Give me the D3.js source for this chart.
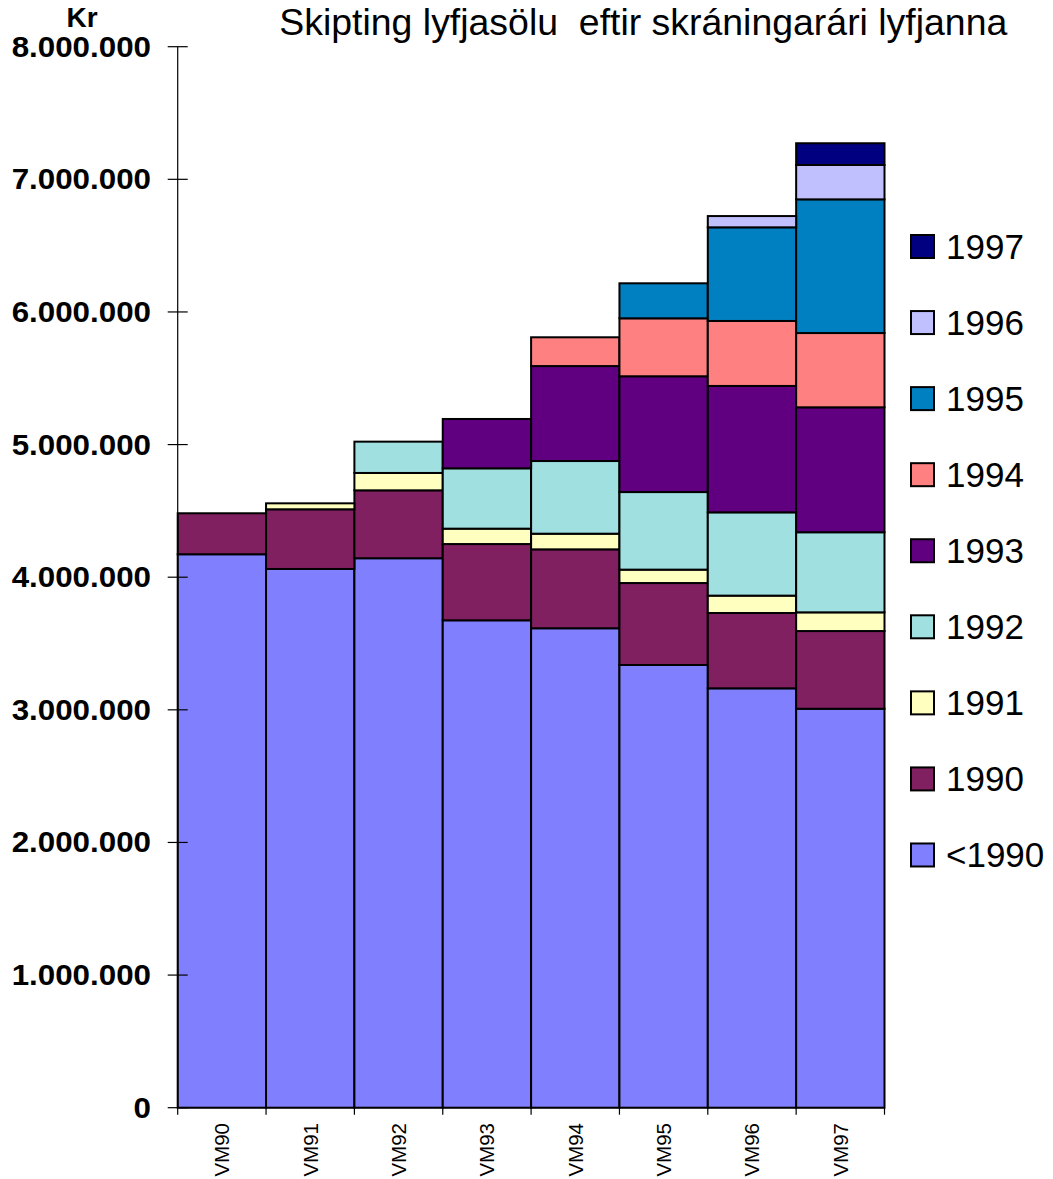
<!DOCTYPE html>
<html>
<head>
<meta charset="utf-8">
<script src="https://cdn.jsdelivr.net/npm/d3@7"></script>
<style>
  html, body { margin: 0; padding: 0; background: #fff; }
  svg { display: block; }
  text { font-family: "Liberation Sans", Arial, sans-serif; fill: #000; }
</style>
</head>
<body>
<svg id="chart" width="1053" height="1179"></svg>
<script>
const categories = ["VM90", "VM91", "VM92", "VM93", "VM94", "VM95", "VM96", "VM97"];
const seriesKeys = ["<1990", "1990", "1991", "1992", "1993", "1994", "1995", "1996", "1997"];

const sPre1990 = [4173000, 4062000, 4143000, 3675000, 3615000, 3338000, 3162000, 3008000];
const s1990    = [309000, 450000, 512000, 575000, 595000, 618000, 568000, 586000];
const s1991    = [0, 45000, 131000, 116000, 118000, 101000, 131000, 141000];
const s1992    = [0, 0, 236000, 455000, 548000, 585000, 628000, 604000];
const s1993    = [0, 0, 0, 372000, 716000, 873000, 953000, 942000];
const s1994    = [0, 0, 0, 0, 217000, 437000, 490000, 560000];
const s1995    = [0, 0, 0, 0, 0, 264000, 706000, 1008000];
const s1996    = [0, 0, 0, 0, 0, 0, 85000, 259000];
const s1997    = [0, 0, 0, 0, 0, 0, 0, 164000];

const seriesValues = [sPre1990, s1990, s1991, s1992, s1993, s1994, s1995, s1996, s1997];
const seriesColors = ["#8080FF", "#802060", "#FFFFC0", "#A0E0E0", "#600080", "#FF8080", "#0080C0", "#C0C0FF", "#000080"];

const yTicks = [0, 1000000, 2000000, 3000000, 4000000, 5000000, 6000000, 7000000, 8000000];
const titleText = "Skipting lyfjasölu  eftir skráningarári lyfjanna";
const yUnit = "Kr";

// table for d3.stack
const table = categories.map((c, i) => {
  const row = { cat: c };
  seriesKeys.forEach((k, j) => row[k] = seriesValues[j][i]);
  return row;
});

const svg = d3.select("#chart");
const plotL = 177.7, plotR = 884.5, plotT = 46.7, plotB = 1107.7;

const x = d3.scaleBand().domain(categories).range([plotL, plotR]).padding(0);
const y = d3.scaleLinear().domain([0, 8000000]).range([plotB, plotT]);

const stack = d3.stack().keys(seriesKeys);
const layers = stack(table);

const color = d3.scaleOrdinal().domain(seriesKeys).range(seriesColors);

// bars
const gBars = svg.append("g");
layers.forEach(layer => {
  gBars.selectAll(null)
    .data(layer.filter(d => d[1] - d[0] > 0))
    .enter().append("rect")
    .attr("x", d => x(d.data.cat))
    .attr("width", x.bandwidth())
    .attr("y", d => y(d[1]))
    .attr("height", d => y(d[0]) - y(d[1]))
    .attr("fill", color(layer.key))
    .attr("stroke", "#000")
    .attr("stroke-width", 2);
});

// y axis
const loc = d3.formatLocale({ decimal: ",", thousands: ".", grouping: [3], currency: ["", " kr"] });
const fmt = loc.format(",");

const gY = svg.append("g").attr("transform", `translate(${plotL},0)`);
gY.append("line").attr("x1", 0).attr("x2", 0).attr("y1", y(8000000)).attr("y2", y(0))
  .attr("stroke", "#000").attr("stroke-width", 1.2);
gY.selectAll("line.tick").data(yTicks).enter().append("line")
  .attr("class", "tick")
  .attr("x1", -10).attr("x2", 10)
  .attr("y1", d => y(d)).attr("y2", d => y(d))
  .attr("stroke", "#000").attr("stroke-width", 1.2);

const yLabels = svg.append("g").selectAll("text").data(yTicks).enter().append("text")
  .attr("x", 151)
  .attr("y", d => y(d) + 10)
  .attr("text-anchor", "end")
  .attr("font-size", 29)
  .attr("font-weight", "bold")
  .text(d => fmt(d));
yLabels.each(function() {
  const w = this.getComputedTextLength();
  d3.select(this).attr("textLength", w * 1.08).attr("lengthAdjust", "spacingAndGlyphs");
});

svg.append("text")
  .attr("x", 82).attr("y", 27)
  .attr("text-anchor", "middle")
  .attr("font-size", 28)
  .attr("font-weight", "bold")
  .text(yUnit);

// x axis
const bounds = categories.map(c => x(c)).concat([x(categories[categories.length - 1]) + x.bandwidth()]);
const gX = svg.append("g");
gX.append("line").attr("x1", plotL).attr("x2", plotR).attr("y1", plotB).attr("y2", plotB)
  .attr("stroke", "#000").attr("stroke-width", 1.2);
gX.selectAll("line.xt").data(bounds).enter().append("line")
  .attr("class", "xt")
  .attr("x1", d => d).attr("x2", d => d)
  .attr("y1", plotB).attr("y2", plotB + 7)
  .attr("stroke", "#000").attr("stroke-width", 1.2);
gX.selectAll("text").data(categories).enter().append("text")
  .attr("transform", d => `translate(${x(d) + x.bandwidth() / 2 + 7.5},1123) rotate(-90)`)
  .attr("text-anchor", "end")
  .attr("font-size", 20.5)
  .text(d => d);

// title
svg.append("text")
  .attr("x", 279.3).attr("y", 34.5)
  .attr("font-size", 37)
  .style("white-space", "pre")
  .attr("textLength", 728)
  .attr("lengthAdjust", "spacingAndGlyphs")
  .text(titleText);

// legend (top-down: 1997 ... <1990)
const legendKeys = seriesKeys.slice().reverse();
const lg = svg.append("g");
const rowY = i => 246.5 + i * 76.06;
legendKeys.forEach((k, i) => {
  lg.append("rect")
    .attr("x", 911).attr("y", rowY(i) - 11.5)
    .attr("width", 23).attr("height", 23)
    .attr("fill", color(k))
    .attr("stroke", "#000").attr("stroke-width", 2);
  lg.append("text")
    .attr("x", 946).attr("y", rowY(i) + 12.5)
    .attr("font-size", 35)
    .text(k);
});
</script>
</body>
</html>
